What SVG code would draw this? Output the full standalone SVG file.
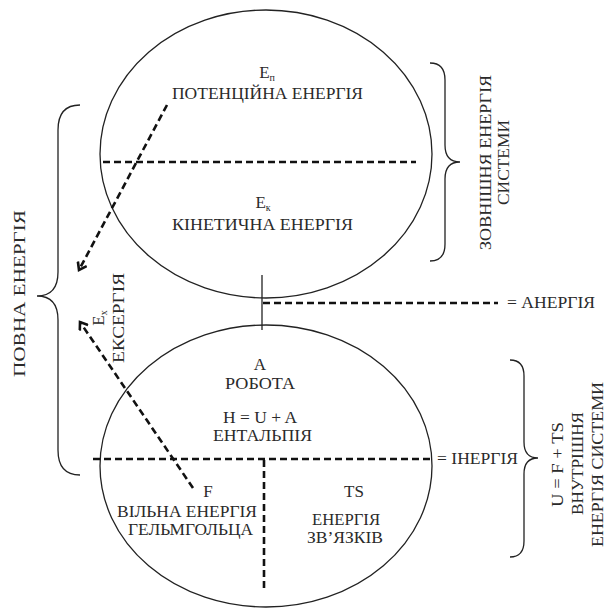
<svg xmlns="http://www.w3.org/2000/svg" width="606" height="608" viewBox="0 0 606 608">
<defs>
<style>
text{font-family:"Liberation Serif","Times New Roman",serif;font-size:17px;fill:#2a2a2a;}
.c{text-anchor:middle;}
.sub{font-size:10px;}
.ell{fill:none;stroke:#222;stroke-width:1.3;}
.dash{fill:none;stroke:#111;stroke-width:2.6;stroke-dasharray:7 4;}
.solid{fill:none;stroke:#222;stroke-width:1.3;}
.brace{fill:none;stroke:#222;stroke-width:1.3;}
</style>
<marker id="ah" markerWidth="12" markerHeight="12" refX="8" refY="6" orient="auto" markerUnits="userSpaceOnUse">
<path d="M1,1 L8,6 L1,11" fill="none" stroke="#111" stroke-width="2.6"/>
</marker>
</defs>
<rect width="606" height="608" fill="#fff"/>
<g id="top-ellipse">
<ellipse class="ell" cx="266" cy="154" rx="166" ry="144"/>
<text class="c" x="267" y="78">E<tspan class="sub" dy="3">п</tspan></text>
<text class="c" x="267.5" y="99" textLength="191" lengthAdjust="spacingAndGlyphs">ПОТЕНЦІЙНА ЕНЕРГІЯ</text>
<text class="c" x="263" y="208">E<tspan class="sub" dy="3">к</tspan></text>
<text class="c" x="262.5" y="230" textLength="181" lengthAdjust="spacingAndGlyphs">КІНЕТИЧНА ЕНЕРГІЯ</text>
</g>
<g id="bottom-ellipse">
<ellipse class="ell" cx="266" cy="466" rx="166" ry="141"/>
<text class="c" x="260" y="370">A</text>
<text class="c" x="260" y="389" textLength="70" lengthAdjust="spacingAndGlyphs">РОБОТА</text>
<text class="c" x="260" y="423" textLength="74" lengthAdjust="spacingAndGlyphs">H = U + A</text>
<text class="c" x="262.5" y="441" textLength="99" lengthAdjust="spacingAndGlyphs">ЕНТАЛЬПІЯ</text>
<text class="c" x="208" y="497">F</text>
<text class="c" x="187" y="517" textLength="140" lengthAdjust="spacingAndGlyphs">ВІЛЬНА ЕНЕРГІЯ</text>
<text class="c" x="190.5" y="535" textLength="125" lengthAdjust="spacingAndGlyphs">ГЕЛЬМГОЛЬЦА</text>
<text class="c" x="354" y="497">TS</text>
<text class="c" x="346" y="525" textLength="68" lengthAdjust="spacingAndGlyphs">ЕНЕРГІЯ</text>
<text class="c" x="345" y="543" textLength="76" lengthAdjust="spacingAndGlyphs">ЗВ’ЯЗКІВ</text>
</g>
<g id="connectors">
<line class="dash" x1="103" y1="162" x2="416" y2="162"/>
<line class="solid" x1="262" y1="275" x2="262" y2="330"/>
<line class="dash" x1="263" y1="303" x2="498" y2="303"/>
<line class="dash" x1="93" y1="459" x2="432" y2="459"/>
<line class="dash" x1="264" y1="460" x2="264" y2="588"/>
<line class="dash" x1="167" y1="105" x2="79" y2="270" marker-end="url(#ah)"/>
<line class="dash" x1="193" y1="488" x2="80" y2="322" marker-end="url(#ah)"/>
</g>
<g id="braces">
<path class="brace" d="M80,105 Q58,105 58,130 L58,272 Q58,296 37,296 Q58,296 58,320 L58,450 Q58,475 80,475"/>
<path class="brace" d="M430,63 Q445,63 445,80 L445,145 Q445,162 460,162 Q445,162 445,179 L445,244 Q445,261 430,261"/>
<path class="brace" d="M510,360 Q524,360 524,376 L524,442 Q524,458 538,458 Q524,458 524,474 L524,541 Q524,557 510,557"/>
</g>
<g id="labels">
<text class="c" transform="translate(25,293.5) rotate(-90)" textLength="167" lengthAdjust="spacingAndGlyphs">ПОВНА ЕНЕРГІЯ</text>
<text class="c" transform="translate(104,318) rotate(-90)">E<tspan class="sub" dy="3">x</tspan></text>
<text class="c" transform="translate(124,318) rotate(-90)" textLength="90" lengthAdjust="spacingAndGlyphs">ЕКСЕРГІЯ</text>
<text class="c" transform="translate(491,162.5) rotate(-90)" textLength="175" lengthAdjust="spacingAndGlyphs">ЗОВНІШНЯ ЕНЕРГІЯ</text>
<text class="c" transform="translate(509,162.5) rotate(-90)" textLength="85" lengthAdjust="spacingAndGlyphs">СИСТЕМИ</text>
<text x="507" y="308" textLength="88" lengthAdjust="spacingAndGlyphs">= АНЕРГІЯ</text>
<text x="437" y="464" textLength="81" lengthAdjust="spacingAndGlyphs">= ІНЕРГІЯ</text>
<text class="c" transform="translate(563,464.5) rotate(-90)" textLength="85" lengthAdjust="spacingAndGlyphs">U = F + TS</text>
<text class="c" transform="translate(583,463.5) rotate(-90)" textLength="103" lengthAdjust="spacingAndGlyphs">ВНУТРІШНЯ</text>
<text class="c" transform="translate(603,464.5) rotate(-90)" textLength="165" lengthAdjust="spacingAndGlyphs">ЕНЕРГІЯ СИСТЕМИ</text>
</g>
</svg>
